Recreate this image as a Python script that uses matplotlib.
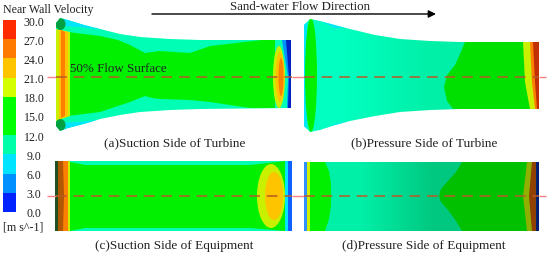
import numpy as np
import matplotlib
matplotlib.use("Agg")
import matplotlib.pyplot as plt
from matplotlib.colors import LinearSegmentedColormap
from matplotlib.patches import Ellipse, PathPatch, Polygon
from matplotlib.path import Path

plt.rcParams["font.family"] = ["Liberation Serif", "DejaVu Serif"]

# colour bar
levels = [30.0, 27.0, 24.0, 21.0, 18.0, 15.0, 12.0, 9.0, 6.0, 3.0, 0.0]
band_colours = ["#ff2a00", "#ff7a00", "#ffc400", "#d4ff00", "#00ff00",
                "#00ff00", "#00ffa8", "#00e4ff", "#0090ff", "#0022ff"]
bar_units = "[m s^-1]"
bar_title = "Near Wall Velocity"

# velocity colours used in the contours
RED, ORANGE, AMBER, LIME = "#e83000", "#ff8000", "#ffc400", "#c8f000"
GREEN, AQUA, CYAN, AZURE, BLUE = "#00f000", "#00ffb4", "#00e4ff", "#0090ff", "#0022c0"

panel_titles = ["(a)Suction Side of Turbine", "(b)Pressure Side of Turbine",
                "(c)Suction Side of Equipment", "(d)Pressure Side of Equipment"]
flow_label = "Sand-water Flow Direction"
surface_label = "50% Flow Surface"

# blade outlines, image pixels
turbine_a_top = [(56, 24), (60, 19), (68, 21), (84, 26), (100, 30), (120, 35), (140, 38), (170, 40), (200, 41), (291, 41)]
turbine_a_bot = [(291, 109), (200, 110), (170, 111), (140, 113), (120, 116), (100, 120), (84, 125), (68, 129), (60, 132), (56, 127)]
turbine_b_top = [(304, 26), (310, 20), (320, 22), (335, 26), (350, 30), (375, 36), (400, 40), (430, 42), (460, 43), (539, 43)]
turbine_b_bot = [(539, 110), (460, 110), (430, 111), (400, 113), (375, 117), (350, 122), (335, 126), (320, 131), (310, 133), (304, 127)]
equip_a = [(55, 162), (292, 162), (292, 232), (55, 232)]
equip_b = [(304, 163), (539, 163), (539, 232), (304, 232)]

# contour regions, image pixels
a_core = [(68, 33), (100, 37), (118, 41), (130, 46), (145, 54), (152, 53), (160, 52), (190, 54), (210, 47),
          (262, 41), (275, 41), (275, 109), (250, 109), (210, 103), (190, 101), (160, 100), (152, 99), (145, 97),
          (130, 103), (100, 113), (68, 117)]
c_core = [(70, 163), (85, 166), (250, 166), (285, 162), (285, 232), (250, 229), (85, 229), (70, 232)]
b_green = [(465, 43), (539, 43), (539, 110), (453, 110), (447, 102), (444, 88), (447, 76), (455, 66), (460, 55)]
d_green_left = [(304, 163), (325, 163), (329, 172), (331, 185), (331, 207), (329, 220), (325, 232), (304, 232)]
d_green_right = [(462, 163), (539, 163), (539, 232), (462, 232), (456, 222), (448, 211), (441, 203), (439, 197),
                 (441, 190), (448, 182), (456, 173)]


def fill(ax, pts, colour, clip=None, z=2):
    p = Polygon(pts, closed=True, fc=colour, ec="none", zorder=z)
    ax.add_patch(p)
    if clip is not None:
        p.set_clip_path(clip)
    return p


def oval(ax, x, y, w, h, colour, clip=None, z=3):
    e = Ellipse((x, y), w, h, fc=colour, ec="none", zorder=z)
    ax.add_patch(e)
    if clip is not None:
        e.set_clip_path(clip)


def outline(ax, pts):
    p = PathPatch(Path(pts + [pts[0]]), fc="none", ec="none")
    ax.add_patch(p)
    return p


fig = plt.figure(figsize=(5.5, 2.55), dpi=100)
ax = fig.add_axes([0, 0, 1, 1])
ax.set_xlim(0, 550)
ax.set_ylim(255, 0)
ax.axis("off")

# colour bar
step = 19.2
for i, c in enumerate(band_colours):
    ax.fill_between([3, 16], 21 + i * step, 21 + (i + 1) * step, color=c, lw=0)
for i, v in enumerate(levels):
    ax.text(34, 22.5 + i * step, f"{v:.1f}", ha="center", va="center", fontsize=8.6, color="#222222")
ax.text(23, 228, bar_units, ha="center", va="center", fontsize=8.6, color="#222222")
ax.text(3, 10, bar_title, ha="left", va="center", fontsize=8.6, color="#222222")

# (a) suction side of turbine
pts = turbine_a_top + turbine_a_bot
clip = outline(ax, pts)
fill(ax, pts, AQUA)
fill(ax, [(62, 19), (80, 24), (105, 31), (80, 28), (62, 27)], CYAN, clip, 2.5)
fill(ax, [(62, 132), (80, 126), (105, 120), (80, 123), (62, 124)], CYAN, clip, 2.5)
fill(ax, a_core, GREEN, clip, 3)
fill(ax, [(56, 30), (70, 33), (70, 117), (56, 122)], LIME, clip, 4)
fill(ax, [(59, 31), (68, 33), (68, 117), (59, 120)], AMBER, clip, 4.1)
fill(ax, [(61, 31), (65, 33), (65, 117), (61, 119)], ORANGE, clip, 4.2)
oval(ax, 60.5, 25, 10, 12, "#00a040", clip, 5)
oval(ax, 60.5, 126, 10, 12, "#00a040", clip, 5)
oval(ax, 279, 78, 12, 62, LIME, clip, 4)
oval(ax, 280, 78, 9, 50, AMBER, clip, 4.1)
oval(ax, 281, 78, 5, 38, ORANGE, clip, 4.2)
fill(ax, [(280, 41), (291, 41), (291, 109), (285, 109), (287, 78)], AQUA, clip, 5)
fill(ax, [(282, 41), (291, 41), (291, 109), (287, 109), (288, 78)], AZURE, clip, 5.1)
fill(ax, [(286, 41), (291, 41), (291, 109), (288, 109), (289, 78)], BLUE, clip, 5.2)

# (b) pressure side of turbine, aqua fades slightly towards the right
gradient_b = LinearSegmentedColormap.from_list("b", ["#00ffc0", "#00f0a8"])
pts = turbine_b_top + turbine_b_bot
clip = outline(ax, pts)
im = ax.imshow(np.array([[0.0, 1.0]]), extent=(304, 470, 135, 18), cmap=gradient_b, aspect="auto",
               interpolation="bilinear", zorder=2)
im.set_clip_path(clip)
fill(ax, [(470, 40), (540, 40), (540, 112), (470, 112)], GREEN, clip, 2)
fill(ax, b_green, "#00e000", clip, 3)
fill(ax, [(304, 20), (307, 20), (307, 133), (304, 133)], CYAN, clip, 3)
fill(ax, [(320, 22), (345, 29), (335, 29)], CYAN, clip, 3)
fill(ax, [(325, 130), (350, 122), (335, 125)], CYAN, clip, 3)
oval(ax, 311, 76, 12, 114, GREEN, clip, 4)
fill(ax, [(523, 43), (539, 43), (539, 110), (530, 110), (525, 83)], LIME, clip, 4)
fill(ax, [(530, 43), (539, 43), (539, 110), (535, 110), (532, 83)], ORANGE, clip, 4.1)
fill(ax, [(533, 43), (539, 43), (539, 110), (537, 110), (535, 83)], "#c03000", clip, 4.2)

# (c) suction side of equipment
pts = equip_a
clip = outline(ax, pts)
fill(ax, pts, AQUA)
fill(ax, c_core, GREEN, clip, 3)
fill(ax, [(55, 162), (70, 162), (70, 232), (55, 232)], LIME, clip, 4)
fill(ax, [(55, 162), (68, 162), (68, 232), (55, 232)], ORANGE, clip, 4.1)
fill(ax, [(55, 162), (63, 162), (64, 197), (63, 232), (55, 232)], "#b05800", clip, 4.2)
fill(ax, [(55, 162), (58, 162), (58, 232), (55, 232)], "#205020", clip, 4.3)
oval(ax, 271, 197, 28, 64, LIME, clip, 4)
oval(ax, 274, 197, 18, 48, AMBER, clip, 4.1)
fill(ax, [(285, 162), (292, 162), (292, 232), (285, 232)], CYAN, clip, 5)
fill(ax, [(288, 162), (292, 162), (292, 232), (288, 232)], "#1060ff", clip, 5.1)

# (d) pressure side of equipment, darkening steadily to the right
gradient_d = LinearSegmentedColormap.from_list("d", ["#00f0a8", "#00c880"])
pts = equip_b
clip = outline(ax, pts)
im = ax.imshow(np.array([[0.0, 1.0]]), extent=(325, 470, 232, 163), cmap=gradient_d, aspect="auto",
               interpolation="bilinear", zorder=2)
im.set_clip_path(clip)
fill(ax, d_green_left, "#00f000", clip, 3)
fill(ax, d_green_right, "#00c000", clip, 3)
fill(ax, [(304, 163), (307, 163), (307, 232), (304, 232)], "#3090ff", clip, 4)
fill(ax, [(307, 163), (310, 163), (310, 232), (307, 232)], "#d0f000", clip, 4)
fill(ax, [(527, 163), (539, 163), (539, 232), (527, 232), (523, 197)], "#90b000", clip, 4)
fill(ax, [(532, 163), (539, 163), (539, 232), (532, 232), (529, 197)], "#904000", clip, 4.1)
fill(ax, [(536, 163), (539, 163), (539, 232), (536, 232)], "#002070", clip, 4.2)

# 50% flow surface lines: pale outside the blades, dashed over them
for y in (78, 197):
    for x0, x1 in ((47, 56), (292, 304), (539, 546)):
        ax.plot([x0, x1], [y, y], color="#ff8080", lw=1, zorder=6, solid_capstyle="butt")
    for x0, x1 in ((56, 292), (304, 539)):
        ax.plot([x0, x1], [y, y], color="#b85a28", lw=1.1, ls=(0, (7, 4.5)), zorder=6)

# arrow and labels
ax.annotate("", xy=(436, 15), xytext=(152, 15),
            arrowprops=dict(arrowstyle="-|>", color="k", lw=1, mutation_scale=11, shrinkA=0, shrinkB=0))
ax.text(299.5, 7, flow_label, ha="center", va="center", fontsize=9.3, color="#222222")
ax.text(118, 69, surface_label, ha="center", va="center", fontsize=9.4, color="#222222", zorder=7)
title_xy = [(175, 143), (424, 143), (174.5, 246), (424, 246)]
for (x, y), t in zip(title_xy, panel_titles):
    ax.text(x, y, t, ha="center", va="center", fontsize=9.5, color="#222222")

ax.set_xlim(0, 550)
ax.set_ylim(255, 0)
fig.savefig("out.png", dpi=100)
